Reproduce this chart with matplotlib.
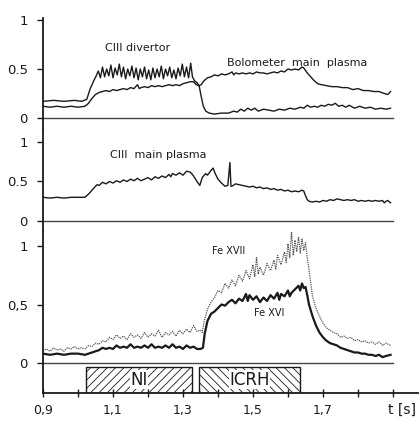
import numpy as np
import matplotlib
matplotlib.use("Agg")
import matplotlib.pyplot as plt

# ---- top panel: CIII divertor and bolometer (main plasma) ----
div_t = [0.90, 0.93, 0.96, 0.99, 1.01, 1.025, 1.035, 1.045, 1.052,
         1.058, 1.064, 1.070, 1.076, 1.082, 1.088, 1.094, 1.100, 1.106, 1.112,
         1.118, 1.124, 1.130, 1.136, 1.142, 1.148, 1.154, 1.160, 1.166, 1.172,
         1.178, 1.184, 1.190, 1.196, 1.202, 1.208, 1.214, 1.220, 1.226, 1.232,
         1.238, 1.244, 1.250, 1.256, 1.262, 1.268, 1.274, 1.280, 1.286, 1.292,
         1.298, 1.304, 1.310, 1.316, 1.322, 1.327, 1.333, 1.340, 1.346, 1.352,
         1.358, 1.365, 1.375, 1.39, 1.41, 1.43, 1.445, 1.455, 1.465, 1.475,
         1.485, 1.495, 1.505, 1.515, 1.53, 1.545, 1.56, 1.575, 1.59, 1.605,
         1.62, 1.635, 1.645, 1.655, 1.665, 1.675, 1.685, 1.695, 1.705, 1.715,
         1.725, 1.735, 1.745, 1.755, 1.765, 1.775, 1.79, 1.805, 1.82, 1.835,
         1.85, 1.865, 1.88, 1.893]
div_y = [0.17, 0.18, 0.17, 0.18, 0.17, 0.19, 0.30, 0.38, 0.43,
         0.48, 0.41, 0.52, 0.42, 0.50, 0.43, 0.54, 0.41, 0.51, 0.44,
         0.55, 0.42, 0.52, 0.40, 0.50, 0.43, 0.53, 0.41, 0.51, 0.39,
         0.50, 0.42, 0.52, 0.40, 0.49, 0.39, 0.51, 0.41, 0.50, 0.42,
         0.53, 0.40, 0.50, 0.43, 0.52, 0.41, 0.49, 0.40, 0.51, 0.43,
         0.55, 0.42, 0.52, 0.41, 0.56, 0.42, 0.38, 0.36, 0.33, 0.22,
         0.12, 0.07, 0.05, 0.04, 0.05, 0.05, 0.07, 0.06, 0.09, 0.07,
         0.10, 0.08, 0.10, 0.07, 0.09, 0.08, 0.07, 0.09, 0.08, 0.10,
         0.09, 0.11, 0.10, 0.13, 0.11, 0.12, 0.11, 0.13, 0.12, 0.14,
         0.13, 0.15, 0.12, 0.13, 0.11, 0.13, 0.10, 0.12, 0.10, 0.11,
         0.09, 0.10, 0.09, 0.10]

bolo_t = [0.90, 0.92, 0.94, 0.96, 0.98, 1.00, 1.02, 1.03, 1.04, 1.05, 1.06,
          1.07, 1.08, 1.09, 1.10, 1.11, 1.12, 1.13, 1.14, 1.15, 1.16, 1.17,
          1.175, 1.18, 1.19, 1.20, 1.21, 1.22, 1.23, 1.24, 1.25, 1.26, 1.27,
          1.28, 1.29, 1.30, 1.31, 1.32, 1.33, 1.338, 1.345, 1.352, 1.36, 1.37,
          1.38, 1.39, 1.40, 1.41, 1.42, 1.43, 1.44, 1.445, 1.45, 1.46, 1.47,
          1.48, 1.49, 1.50, 1.51, 1.52, 1.53, 1.54, 1.55, 1.56, 1.57, 1.58,
          1.59, 1.60, 1.61, 1.62, 1.63, 1.64, 1.645, 1.655, 1.665, 1.675,
          1.685, 1.695, 1.71, 1.725, 1.74, 1.755, 1.77, 1.785, 1.80, 1.815,
          1.83, 1.845, 1.86, 1.875, 1.885, 1.893]
bolo_y = [0.12, 0.11, 0.12, 0.11, 0.12, 0.11, 0.12, 0.15, 0.20, 0.24, 0.26,
          0.27, 0.28, 0.27, 0.29, 0.28, 0.29, 0.30, 0.29, 0.31, 0.30, 0.34,
          0.30, 0.31, 0.32, 0.31, 0.33, 0.32, 0.33, 0.32, 0.33, 0.34, 0.33,
          0.34, 0.33, 0.35, 0.36, 0.37, 0.37, 0.34, 0.33, 0.34, 0.38, 0.41,
          0.42, 0.44, 0.43, 0.45, 0.44, 0.45, 0.47, 0.44, 0.46, 0.45, 0.46,
          0.45, 0.46, 0.45, 0.47, 0.46, 0.46, 0.45, 0.46, 0.47, 0.46, 0.48,
          0.47, 0.50, 0.49, 0.50, 0.49, 0.52, 0.51, 0.46, 0.42, 0.38,
          0.35, 0.34, 0.33, 0.32, 0.32, 0.31, 0.31, 0.29, 0.30, 0.28,
          0.28, 0.27, 0.27, 0.25, 0.24, 0.27]

# ---- middle panel: CIII main plasma ----
c3_t = [0.90, 0.92, 0.94, 0.96, 0.98, 1.00, 1.02, 1.03, 1.04, 1.05, 1.055,
        1.06, 1.07, 1.08, 1.09, 1.10, 1.11, 1.12, 1.13, 1.14, 1.15, 1.16,
        1.17, 1.18, 1.19, 1.20, 1.21, 1.22, 1.23, 1.24, 1.25, 1.26, 1.265,
        1.27, 1.28, 1.29, 1.30, 1.31, 1.32, 1.325, 1.33, 1.34, 1.348, 1.355,
        1.365, 1.37, 1.38, 1.386, 1.392, 1.40, 1.41, 1.42, 1.428, 1.434,
        1.437, 1.44, 1.45, 1.46, 1.47, 1.48, 1.49, 1.50, 1.51, 1.52, 1.53,
        1.54, 1.55, 1.56, 1.57, 1.58, 1.59, 1.60, 1.61, 1.62, 1.63, 1.64,
        1.645, 1.65, 1.655, 1.66, 1.67, 1.68, 1.69, 1.70, 1.71, 1.72, 1.73,
        1.74, 1.75, 1.76, 1.77, 1.78, 1.79, 1.80, 1.81, 1.82, 1.83, 1.84,
        1.85, 1.86, 1.87, 1.875, 1.88, 1.885, 1.893]
c3_y = [0.30, 0.29, 0.30, 0.29, 0.30, 0.30, 0.30, 0.34, 0.39, 0.44, 0.46,
        0.45, 0.49, 0.47, 0.50, 0.48, 0.51, 0.49, 0.52, 0.50, 0.53, 0.51,
        0.54, 0.51, 0.53, 0.55, 0.52, 0.56, 0.54, 0.57, 0.55, 0.59, 0.56,
        0.60, 0.58, 0.61, 0.58, 0.63, 0.62, 0.60, 0.57, 0.50, 0.45, 0.55,
        0.60, 0.58, 0.64, 0.67, 0.60, 0.53, 0.48, 0.44, 0.45, 0.74,
        0.44, 0.44, 0.47, 0.46, 0.45, 0.44, 0.43, 0.44, 0.42, 0.43, 0.41,
        0.42, 0.40, 0.41, 0.39, 0.40, 0.38, 0.39, 0.37, 0.38, 0.37, 0.39,
        0.38, 0.32, 0.27, 0.25, 0.24, 0.25, 0.24, 0.26, 0.25, 0.27, 0.26,
        0.28, 0.27, 0.26, 0.27, 0.26, 0.27, 0.25, 0.26, 0.25, 0.26, 0.25,
        0.26, 0.25, 0.26, 0.23, 0.25, 0.26, 0.23]

# ---- bottom panel: Fe XVI (solid) and Fe XVII (dotted) ----
fe16_t = [0.90, 0.92, 0.94, 0.96, 0.98, 1.00, 1.02, 1.04, 1.05, 1.06, 1.07,
          1.08, 1.09, 1.10, 1.11, 1.12, 1.13, 1.14, 1.15, 1.16, 1.17, 1.18,
          1.19, 1.20, 1.21, 1.22, 1.23, 1.24, 1.25, 1.26, 1.27, 1.28, 1.29,
          1.30, 1.31, 1.32, 1.33, 1.34, 1.35, 1.357, 1.362, 1.37, 1.38, 1.39,
          1.40, 1.41, 1.42, 1.43, 1.44, 1.45, 1.46, 1.47, 1.48, 1.485, 1.49,
          1.50, 1.51, 1.52, 1.53, 1.54, 1.55, 1.56, 1.57, 1.575, 1.58, 1.59,
          1.60, 1.605, 1.61, 1.62, 1.63, 1.635, 1.64, 1.645, 1.65, 1.655,
          1.66, 1.67, 1.68, 1.69, 1.70, 1.71, 1.72, 1.73, 1.74, 1.75, 1.76,
          1.77, 1.78, 1.79, 1.80, 1.81, 1.82, 1.83, 1.84, 1.85, 1.86, 1.87,
          1.88, 1.893]
fe16_y = [0.08, 0.07, 0.08, 0.07, 0.08, 0.08, 0.07, 0.09, 0.10, 0.11, 0.13,
          0.12, 0.13, 0.12, 0.15, 0.13, 0.14, 0.13, 0.16, 0.13, 0.14, 0.13,
          0.15, 0.13, 0.16, 0.13, 0.14, 0.13, 0.15, 0.13, 0.16, 0.13, 0.14,
          0.12, 0.15, 0.13, 0.14, 0.12, 0.12, 0.13, 0.25, 0.36, 0.42, 0.44,
          0.47, 0.50, 0.49, 0.52, 0.54, 0.51, 0.55, 0.53, 0.59, 0.53, 0.58,
          0.54, 0.57, 0.52, 0.56, 0.53, 0.58, 0.55, 0.60, 0.54, 0.59, 0.57,
          0.62, 0.57, 0.60, 0.63, 0.66, 0.62, 0.68, 0.64, 0.65, 0.58,
          0.50, 0.40, 0.32, 0.26, 0.22, 0.19, 0.17, 0.16, 0.15, 0.13, 0.12,
          0.11, 0.10, 0.09, 0.09, 0.08, 0.08, 0.07, 0.07, 0.06, 0.07, 0.05,
          0.06, 0.07]

fe17_t = [0.90, 0.91, 0.92, 0.93, 0.94, 0.95, 0.96, 0.97, 0.98, 0.99, 1.00,
          1.01, 1.02, 1.03, 1.04, 1.05, 1.06, 1.07, 1.08, 1.09, 1.10, 1.11,
          1.12, 1.13, 1.14, 1.15, 1.16, 1.17, 1.18, 1.19, 1.20, 1.21, 1.22,
          1.23, 1.24, 1.25, 1.26, 1.27, 1.28, 1.29, 1.30, 1.31, 1.32, 1.33,
          1.34, 1.35, 1.355, 1.36, 1.37, 1.38, 1.39, 1.40, 1.41, 1.42, 1.43,
          1.44, 1.45, 1.46, 1.47, 1.48, 1.49, 1.50, 1.505, 1.51, 1.515, 1.52,
          1.53, 1.54, 1.55, 1.56, 1.565, 1.57, 1.58, 1.59, 1.595, 1.60, 1.605,
          1.61, 1.615, 1.62, 1.625, 1.63, 1.635, 1.64, 1.645, 1.65, 1.655,
          1.66, 1.665, 1.67, 1.68, 1.69, 1.70, 1.71, 1.72, 1.73, 1.74, 1.75,
          1.76, 1.77, 1.78, 1.79, 1.80, 1.81, 1.82, 1.83, 1.84, 1.85, 1.86,
          1.87, 1.88, 1.893]
fe17_y = [0.10, 0.12, 0.10, 0.13, 0.11, 0.12, 0.10, 0.13, 0.12, 0.14, 0.12,
          0.13, 0.12, 0.15, 0.14, 0.17, 0.16, 0.19, 0.18, 0.22, 0.20, 0.24,
          0.21, 0.23, 0.20, 0.25, 0.22, 0.24, 0.21, 0.26, 0.22, 0.25, 0.23,
          0.28, 0.22, 0.26, 0.24, 0.27, 0.23, 0.28, 0.25, 0.29, 0.26, 0.32,
          0.27, 0.28, 0.26, 0.35, 0.46, 0.52, 0.56, 0.62, 0.60, 0.68, 0.64,
          0.71, 0.66, 0.75, 0.70, 0.79, 0.72, 0.84, 0.74, 0.90, 0.76, 0.82,
          0.75, 0.85, 0.79, 0.88, 0.80, 0.92, 0.84, 0.95, 0.86, 1.02, 0.90,
          1.12, 0.92, 1.05, 0.95, 1.08, 0.94, 1.06, 0.96, 1.03, 0.90,
          0.80, 0.68, 0.57, 0.47, 0.40, 0.34, 0.30, 0.28, 0.26, 0.25, 0.22,
          0.23, 0.21, 0.22, 0.19, 0.20, 0.18, 0.19, 0.17, 0.18, 0.16, 0.18,
          0.15, 0.17, 0.15]

# heating phases
heat_names = ["NI", "ICRH"]
heat_start = [1.023, 1.346]
heat_end = [1.326, 1.634]
heat_hatch = ["////", "\\\\\\\\"]

xticks = [0.9, 1.0, 1.1, 1.2, 1.3, 1.4, 1.5, 1.6, 1.7, 1.8, 1.9]
xlabels = ["0,9", "", "1,1", "", "1,3", "", "1,5", "", "1,7", "", ""]

ink = "#1a1a1a"
plt.rcParams['hatch.color'] = "#666666"
plt.rcParams['hatch.linewidth'] = 0.6

fig = plt.figure(figsize=(4.2, 4.23), dpi=100)
W, H = 420.0, 423.0
left = 43 / W
width = (418 - 43) / W
xmax = 0.9 + (418 - 43) / 350.0
zero_frac = (1.9 - 0.9) / (xmax - 0.9)


def panel(top_px, bot_px, zero_px, px_per_unit):
    ax = fig.add_axes([left, 1 - bot_px / H, width, (bot_px - top_px) / H])
    ax.set_xlim(0.9, xmax)
    ax.set_ylim(-(bot_px - zero_px) / px_per_unit, (zero_px - top_px) / px_per_unit)
    for s in ["top", "right"]:
        ax.spines[s].set_visible(False)
    ax.spines["left"].set_linewidth(1.3)
    ax.spines["left"].set_color(ink)
    ax.tick_params(axis="y", direction="out", length=4, width=1.0,
                   labelsize=9.5, colors=ink, pad=7)
    ax.set_yticks([0, 0.5, 1])
    ax.axhline(0, xmax=zero_frac, color="#444444", lw=1.0)
    return ax


ax1 = panel(8, 130, 118, 98)
ax2 = panel(130, 232, 221, 79)
ax3 = panel(232, 393, 363, 117)

for ax in (ax1, ax2):
    ax.spines["bottom"].set_visible(False)
    ax.set_xticks([])
ax1.spines["left"].set_bounds(ax1.get_ylim()[0], 1.02)

ax1.set_yticklabels(["0", "0.5", "1"])
ax2.set_yticklabels(["0", "0.5", "1"])
ax3.set_yticklabels(["0", "0,5", "1"])

# top panel
ax1.plot(div_t, div_y, color=ink, lw=1.0)
ax1.plot(bolo_t, bolo_y, color=ink, lw=1.0)
ax1.text(1.17, 0.71, "CIII divertor", fontsize=8, ha="center", va="center", color=ink)
ax1.text(1.625, 0.56, "Bolometer  main  plasma", fontsize=8, ha="center",
         va="center", color=ink)

# middle panel
ax2.plot(c3_t, c3_y, color=ink, lw=1.0)
ax2.text(1.23, 0.84, "CIII  main plasma", fontsize=8, ha="center", va="center", color=ink)

# bottom panel
ax3.plot(fe17_t, fe17_y, color="#555555", lw=0.9, ls=(0, (1, 0.8)))
ax3.plot(fe16_t, fe16_y, color=ink, lw=1.6)
ax3.text(1.43, 0.96, "Fe XVII", fontsize=7, ha="center", va="center", color=ink)
ax3.text(1.545, 0.43, "Fe XVI", fontsize=7, ha="center", va="center", color=ink)

bot = ax3.get_ylim()[0]
for name, t0, t1, h in zip(heat_names, heat_start, heat_end, heat_hatch):
    ax3.bar(t0, -0.03 - bot, width=t1 - t0, bottom=bot, align="edge",
            facecolor="white", edgecolor=ink, lw=1.0, hatch=h)
    ax3.text((t0 + t1) / 2, (bot - 0.03) / 2, name, fontsize=12, ha="center",
             va="center", color=ink,
             bbox=dict(facecolor="white", edgecolor="none", pad=0.3))

ax3.spines["bottom"].set_linewidth(1.3)
ax3.spines["bottom"].set_color(ink)
ax3.set_xticks(xticks)
ax3.set_xticklabels(xlabels)
ax3.tick_params(axis="x", direction="inout", length=6, width=1.0,
                labelsize=9, colors=ink, pad=5)
ax3.text(1.925, -0.40, "t [s]", fontsize=10, ha="center", va="center", color=ink)

fig.savefig("out.png", dpi=100, facecolor="white")
